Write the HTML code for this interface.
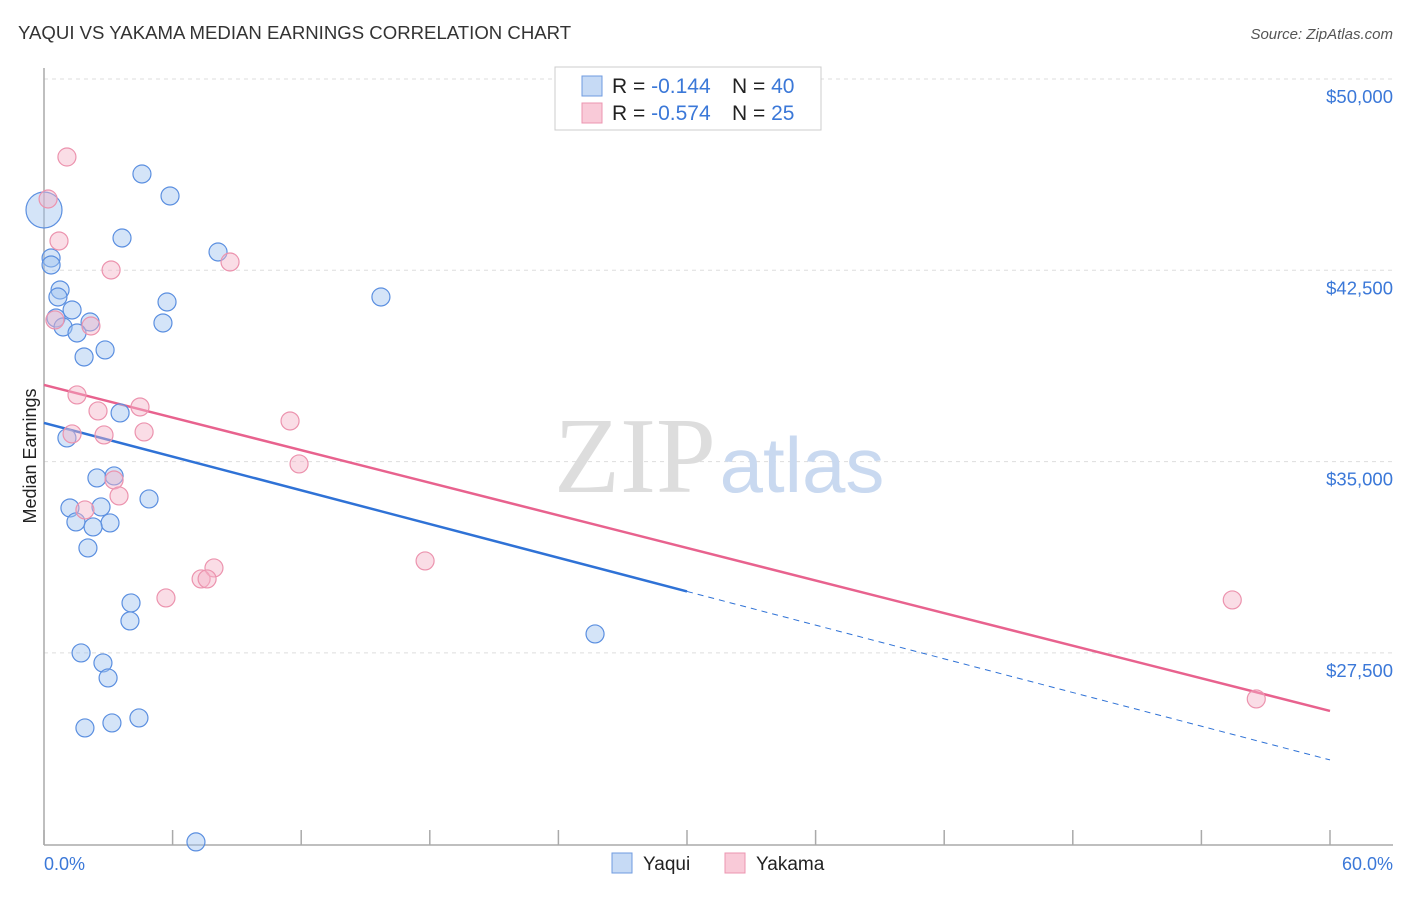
<!DOCTYPE html>
<html><head><meta charset="utf-8"><style>
body{margin:0;background:#fff;font-family:"Liberation Sans",sans-serif}
</style></head><body>
<svg width="1406" height="892" xmlns="http://www.w3.org/2000/svg">
<text x="18" y="39" font-size="18.6" fill="#333">YAQUI VS YAKAMA MEDIAN EARNINGS CORRELATION CHART</text>
<text x="1393" y="39" font-size="15" fill="#555" font-style="italic" text-anchor="end">Source: ZipAtlas.com</text>
<g id="grid"></g>
<text x="635" y="492" font-size="108" fill="#ddd" text-anchor="middle" font-family="Liberation Serif,serif">ZIP</text>
<text x="802" y="492" font-size="78" fill="#c9d9f0" text-anchor="middle">atlas</text>
<line x1="44" y1="68" x2="44" y2="845" stroke="#aaa" stroke-width="1.5"/>
<line x1="44" y1="845" x2="1393" y2="845" stroke="#aaa" stroke-width="1.5"/>
<g id="ticks"></g>
<g id="lines"></g>
<g id="points"></g>
<text x="36" y="456" font-size="18" fill="#222" text-anchor="middle" transform="rotate(-90 36 456)">Median Earnings</text>
<text x="44" y="870" font-size="18" fill="#3b78d8">0.0%</text>
<text x="1393" y="870" font-size="18" fill="#3b78d8" text-anchor="end">60.0%</text>
<g>
<rect x="555" y="67" width="266" height="63" fill="#fff" stroke="#ccc"/>
<rect x="582" y="76" width="20" height="20" fill="#c6daf5" stroke="#6f9be0"/>
<rect x="582" y="103" width="20" height="20" fill="#f9cad8" stroke="#ec95b0"/>
<text x="612" y="93" font-size="21" fill="#222">R = <tspan fill="#3b78d8">-0.144</tspan><tspan x="732">N = </tspan><tspan fill="#3b78d8">40</tspan></text>
<text x="612" y="120" font-size="21" fill="#222">R = <tspan fill="#3b78d8">-0.574</tspan><tspan x="732">N = </tspan><tspan fill="#3b78d8"> 25</tspan></text>
</g>
<rect x="612" y="853" width="20" height="20" fill="#c6daf5" stroke="#6f9be0"/>
<text x="643" y="870" font-size="19" fill="#222">Yaqui</text>
<rect x="725" y="853" width="20" height="20" fill="#f9cad8" stroke="#ec95b0"/>
<text x="756" y="870" font-size="19" fill="#222">Yakama</text>
</svg>
<script>
const yTicks=[50000,42500,35000,27500];
const yTickLabels=["$50,000","$42,500","$35,000","$27,500"];
const xTicks=[0,6,12,18,24,30,36,42,48,54,60];
const yaquiX=[4.57,5.88,0,3.64,8.12,0.33,0.33,0.75,0.65,5.74,15.72,1.31,0.56,2.15,5.55,0.89,1.54,2.85,1.87,3.55,1.07,3.27,2.47,4.90,1.21,2.66,1.49,3.08,2.29,2.05,4.06,4.01,25.71,1.73,2.75,2.99,4.43,3.17,1.91,7.09];
const yaquiY=[46276,45414,44865,43767,43218,42983,42709,41729,41454,41258,41454,40945,40631,40474,40435,40278,40043,39377,39102,36907,35927,34437,34359,33536,33182,33222,32634,32595,32438,31615,29459,28754,28244,27499,27107,26519,24951,24755,24559,20090];
const yaquiR=[9,9,18,9,9,9,9,9,9,9,9,9,9,9,9,9,9,9,9,9,9,9,9,9,9,9,9,9,9,9,9,9,9,9,9,9,9,9,9,9];
const yakamaX=[1.07,0.19,0.70,3.13,8.68,0.51,2.19,1.54,2.52,4.48,11.48,1.31,2.80,4.67,11.90,3.27,3.50,1.91,17.78,7.93,7.33,7.61,5.69,55.44,56.56];
const yakamaY=[46942,45296,43650,42513,42826,40553,40317,37613,36986,37142,36593,36084,36045,36162,34908,34280,33653,33104,31106,30831,30400,30400,29655,29577,25696];
const yaquiTrend=[36515,23305]; // value at x=0 and x=60
const yakamaTrend=[38005,25226];
const yaquiSolidEnd=30;
const NS="http://www.w3.org/2000/svg";
const X=v=>44+v/60*1286;
const Y=v=>79+(50000-v)/7500*191.3;
function mk(t,a,p){const e=document.createElementNS(NS,t);for(const k in a)e.setAttribute(k,a[k]);p.appendChild(e);return e;}
const grid=document.getElementById('grid');
yTicks.forEach((v,i)=>{
 const l=mk('line',{x1:44,x2:1393,y1:Y(v),y2:Y(v),stroke:'#ddd','stroke-dasharray':'4,4'},grid);
 
 
 const t=mk('text',{x:1393,y:Y(v)+24,'font-size':18.5,fill:'#3b78d8','text-anchor':'end'},grid);
 t.textContent=yTickLabels[i];
 
 
});
const tk=document.getElementById('ticks');
xTicks.forEach(v=>{
 const l=mk('line',{x1:X(v),x2:X(v),y1:830,y2:845,stroke:'#aaa','stroke-width':1.5},tk);
 
 
});
const lg=document.getElementById('lines');
const ty=(tr,x)=>tr[0]+(tr[1]-tr[0])*x/60;
let a=mk('line',{x1:X(0),y1:Y(ty(yaquiTrend,0)),x2:X(yaquiSolidEnd),y2:Y(ty(yaquiTrend,yaquiSolidEnd)),stroke:'#2f72d6','stroke-width':2.5},lg);


a=mk('line',{x1:X(yaquiSolidEnd),y1:Y(ty(yaquiTrend,yaquiSolidEnd)),x2:X(60),y2:Y(ty(yaquiTrend,60)),stroke:'#2f72d6','stroke-width':1,'stroke-dasharray':'6,5'},lg);


a=mk('line',{x1:X(0),y1:Y(ty(yakamaTrend,0)),x2:X(60),y2:Y(ty(yakamaTrend,60)),stroke:'#e8628e','stroke-width':2.5},lg);


const pg=document.getElementById('points');
yaquiX.forEach((x,i)=>{
 const c=mk('circle',{cx:X(x),cy:Y(yaquiY[i]),r:yaquiR[i],fill:'rgba(160,195,240,0.45)',stroke:'#5b8fe0','stroke-width':1.2},pg);
 
 
});
yakamaX.forEach((x,i)=>{
 const c=mk('circle',{cx:X(x),cy:Y(yakamaY[i]),r:9,fill:'rgba(245,180,200,0.45)',stroke:'#ec93ae','stroke-width':1.2},pg);
 
 
});
</script>
</body></html>
